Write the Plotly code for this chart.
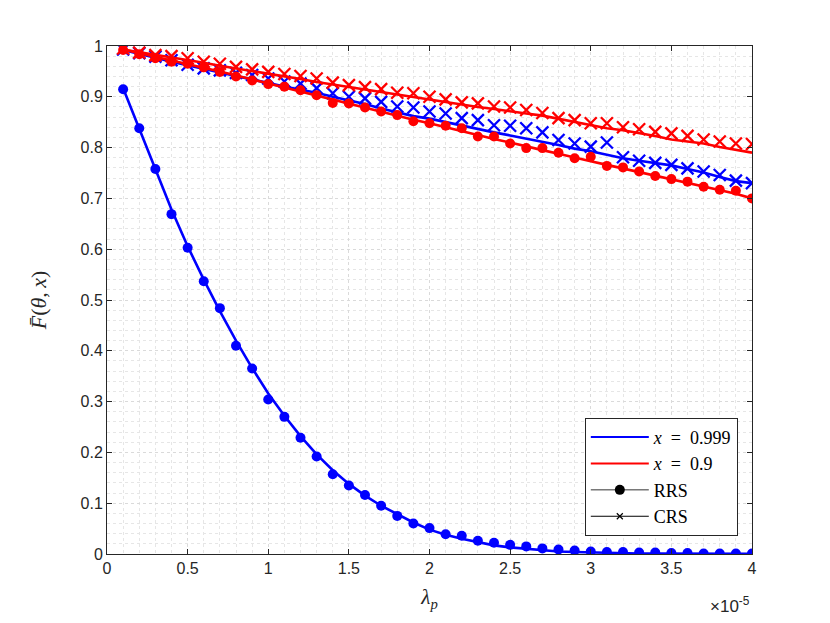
import plotly.graph_objects as go

# lambda_p in units of 1e-5
lam = [0.1, 0.2, 0.3, 0.4, 0.5, 0.6, 0.7, 0.8, 0.9, 1.0,
       1.1, 1.2, 1.3, 1.4, 1.5, 1.6, 1.7, 1.8, 1.9, 2.0,
       2.1, 2.2, 2.3, 2.4, 2.5, 2.6, 2.7, 2.8, 2.9, 3.0,
       3.1, 3.2, 3.3, 3.4, 3.5, 3.6, 3.7, 3.8, 3.9, 4.0]

# x = 0.999, RRS
rrs_0999_ana = [0.917, 0.836, 0.755, 0.678, 0.606, 0.540, 0.478, 0.420, 0.366, 0.316,
                0.272, 0.232, 0.196, 0.165, 0.138, 0.115, 0.095, 0.078, 0.062, 0.048,
                0.038, 0.030, 0.023, 0.017, 0.013, 0.010, 0.007, 0.005, 0.004, 0.003,
                0.002, 0.002, 0.001, 0.001, 0.001, 0.0008, 0.0006, 0.0005, 0.0004, 0.0003]
rrs_0999_sim = [0.915, 0.838, 0.758, 0.669, 0.603, 0.537, 0.484, 0.410, 0.365, 0.304,
                0.270, 0.229, 0.192, 0.157, 0.135, 0.116, 0.095, 0.075, 0.060, 0.051,
                0.039, 0.036, 0.026, 0.022, 0.018, 0.015, 0.011, 0.009, 0.007, 0.005,
                0.004, 0.004, 0.003, 0.003, 0.002, 0.002, 0.001, 0.001, 0.001, 0.001]

# x = 0.999, CRS
crs_0999_ana = [0.992, 0.985, 0.977, 0.969, 0.962, 0.955, 0.948, 0.940, 0.933, 0.926,
                0.920, 0.914, 0.908, 0.900, 0.893, 0.886, 0.877, 0.869, 0.862, 0.857,
                0.850, 0.843, 0.836, 0.830, 0.824, 0.818, 0.812, 0.805, 0.798, 0.793,
                0.786, 0.779, 0.774, 0.770, 0.765, 0.758, 0.751, 0.742, 0.734, 0.730]
crs_0999_sim = [0.993, 0.986, 0.979, 0.972, 0.963, 0.956, 0.952, 0.947, 0.943, 0.936,
                0.930, 0.926, 0.917, 0.907, 0.900, 0.897, 0.890, 0.881, 0.879, 0.871,
                0.867, 0.858, 0.854, 0.844, 0.843, 0.838, 0.830, 0.815, 0.808, 0.802,
                0.810, 0.781, 0.774, 0.770, 0.766, 0.759, 0.753, 0.746, 0.735, 0.730]

# x = 0.9, RRS
rrs_09_ana = [0.993, 0.986, 0.979, 0.972, 0.965, 0.957, 0.950, 0.942, 0.934, 0.926,
              0.918, 0.910, 0.902, 0.894, 0.886, 0.878, 0.870, 0.862, 0.855, 0.848,
              0.840, 0.832, 0.825, 0.817, 0.810, 0.802, 0.795, 0.788, 0.780, 0.773,
              0.766, 0.759, 0.752, 0.745, 0.738, 0.731, 0.724, 0.717, 0.709, 0.700]
rrs_09_sim = [0.992, 0.984, 0.976, 0.969, 0.965, 0.958, 0.949, 0.940, 0.932, 0.925,
              0.920, 0.913, 0.903, 0.888, 0.887, 0.879, 0.871, 0.864, 0.852, 0.848,
              0.843, 0.838, 0.822, 0.822, 0.808, 0.799, 0.799, 0.790, 0.779, 0.782,
              0.764, 0.761, 0.753, 0.744, 0.738, 0.733, 0.723, 0.717, 0.715, 0.700]

# x = 0.9, CRS
crs_09_ana = [0.993, 0.988, 0.983, 0.977, 0.972, 0.967, 0.961, 0.956, 0.951, 0.945,
              0.940, 0.935, 0.929, 0.924, 0.919, 0.914, 0.909, 0.904, 0.899, 0.895,
              0.890, 0.885, 0.880, 0.876, 0.871, 0.867, 0.863, 0.857, 0.851, 0.844,
              0.838, 0.834, 0.829, 0.823, 0.816, 0.812, 0.808, 0.801, 0.795, 0.790]
crs_09_sim = [0.995, 0.987, 0.982, 0.980, 0.976, 0.969, 0.965, 0.959, 0.954, 0.949,
              0.945, 0.941, 0.936, 0.928, 0.923, 0.919, 0.915, 0.908, 0.907, 0.900,
              0.895, 0.889, 0.887, 0.881, 0.879, 0.874, 0.868, 0.858, 0.854, 0.848,
              0.848, 0.840, 0.836, 0.831, 0.828, 0.823, 0.816, 0.812, 0.808, 0.807]

BLUE = "#0000ff"
RED = "#ff0000"
SERIF = "Liberation Serif"
SANS = "Liberation Sans"

fig = go.Figure()

def add_pair(ana, sim, color, symbol):
    fig.add_trace(go.Scatter(x=lam, y=ana, mode="lines", showlegend=False,
                             line=dict(color=color, width=2.6)))
    if symbol == "circle":
        mk = dict(symbol="circle", size=10, color=color)
    else:
        mk = dict(symbol="x-thin", size=12, color=color,
                  line=dict(color=color, width=2.3))
    fig.add_trace(go.Scatter(x=lam, y=sim, mode="markers", showlegend=False,
                             marker=mk))

add_pair(rrs_0999_ana, rrs_0999_sim, BLUE, "circle")
add_pair(crs_0999_ana, crs_0999_sim, BLUE, "x")
add_pair(rrs_09_ana, rrs_09_sim, RED, "circle")
add_pair(crs_09_ana, crs_09_sim, RED, "x")

# legend entries
sp = "\u2002"
fig.add_trace(go.Scatter(x=[None], y=[None], mode="lines",
                         name="<i>x</i>" + sp + "=" + sp + "0.999",
                         line=dict(color=BLUE, width=2)))
fig.add_trace(go.Scatter(x=[None], y=[None], mode="lines",
                         name="<i>x</i>" + sp + "=" + sp + "0.9",
                         line=dict(color=RED, width=2)))
fig.add_trace(go.Scatter(x=[None], y=[None], mode="lines+markers", name="RRS",
                         line=dict(color="#333333", width=1),
                         marker=dict(symbol="circle", size=10, color="black")))
fig.add_trace(go.Scatter(x=[None], y=[None], mode="lines+markers", name="CRS",
                         line=dict(color="black", width=1),
                         marker=dict(symbol="x-thin", size=6, color="black",
                                     line=dict(color="black", width=1.2))))

axis_common = dict(
    showline=True, linecolor="#262626", linewidth=1, mirror="ticks",
    ticks="inside", ticklen=5, tickcolor="#262626",
    tickfont=dict(family=SANS, size=16, color="#262626"),
    showgrid=True, gridcolor="#dadada", griddash="dot", gridwidth=1,
    zeroline=False,
)

fig.update_xaxes(range=[0, 4], tickvals=[0, 0.5, 1, 1.5, 2, 2.5, 3, 3.5, 4],
                 ticktext=["0", "0.5", "1", "1.5", "2", "2.5", "3", "3.5", "4"],
                 minor=dict(dtick=0.1, showgrid=True, gridcolor="#e6e6e6",
                            griddash="dot", gridwidth=1),
                 title=dict(text="<i>λ</i><sub><i>p</i></sub>", standoff=13,
                            font=dict(family=SERIF, size=21, color="#262626")),
                 **axis_common)
fig.update_yaxes(range=[0, 1],
                 tickvals=[0, 0.1, 0.2, 0.3, 0.4, 0.5, 0.6, 0.7, 0.8, 0.9, 1],
                 ticktext=["0", "0.1", "0.2", "0.3", "0.4", "0.5", "0.6", "0.7",
                           "0.8", "0.9", "1"],
                 minor=dict(dtick=0.02, showgrid=True, gridcolor="#e6e6e6",
                            griddash="dot", gridwidth=1),
                 title=dict(text="<i>F\u0304</i>(<i>θ</i>,\u2009<i>x</i>)", standoff=27,
                            font=dict(family=SERIF, size=22, color="#262626")),
                 **axis_common)

fig.add_annotation(x=1.0, y=-0.075, xref="paper", yref="paper",
                   xanchor="right", yanchor="top", showarrow=False,
                   text="×10<sup>-5</sup>",
                   font=dict(family=SANS, size=17, color="#262626"))

fig.update_layout(
    width=822, height=615,
    margin=dict(l=99, r=78, t=38, b=69),
    paper_bgcolor="white", plot_bgcolor="white",
    legend=dict(x=0.978, y=0.268, xanchor="right", yanchor="top",
                bgcolor="white", bordercolor="#262626", borderwidth=1,
                font=dict(family=SERIF, size=18, color="black"),
                tracegroupgap=0, itemwidth=58),
)

fig.write_html("out.html")
